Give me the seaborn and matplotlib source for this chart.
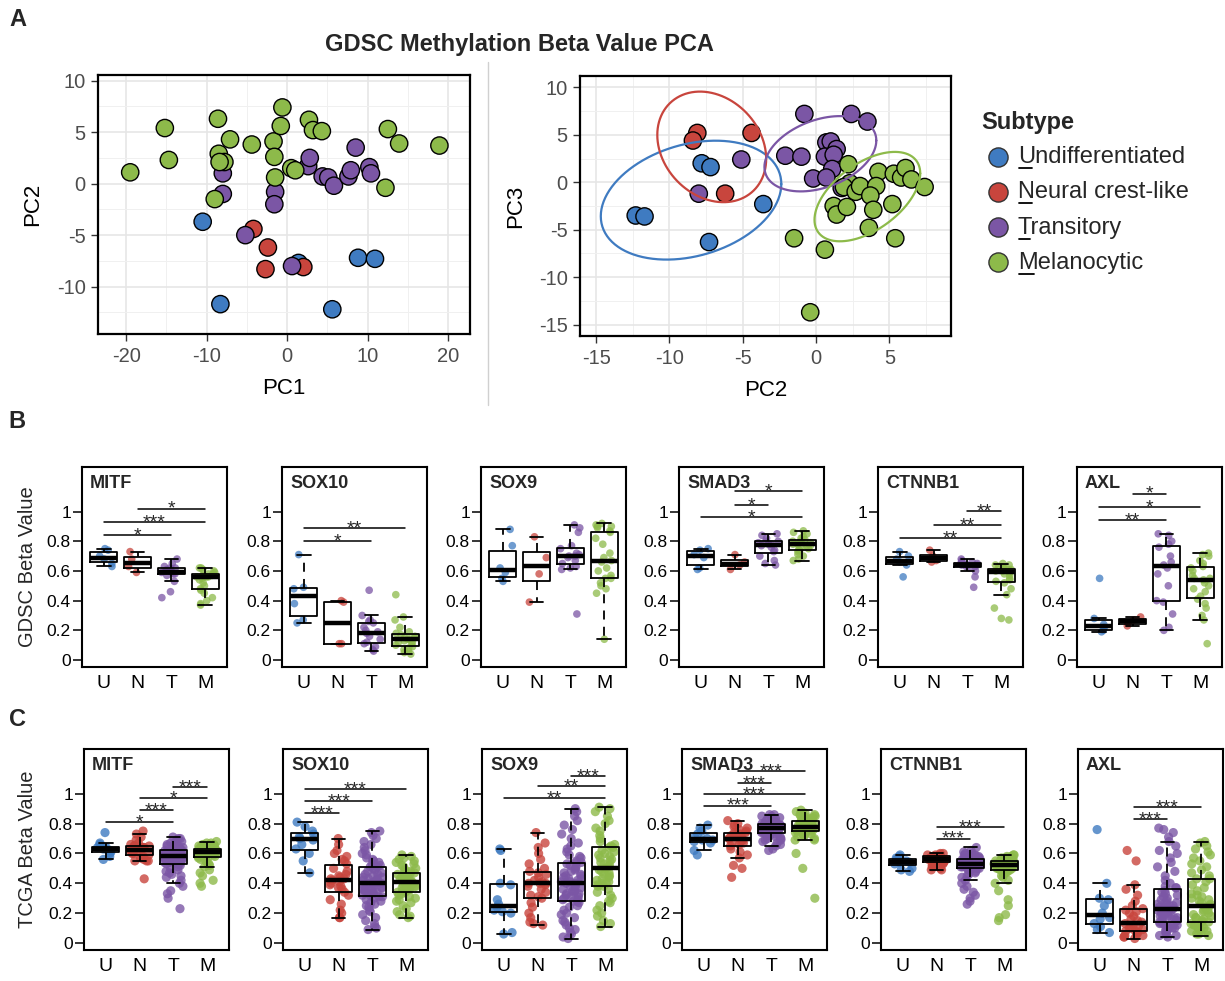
import numpy as np
import pandas as pd
import matplotlib
matplotlib.use("Agg")
import matplotlib.pyplot as plt
import seaborn as sns
from matplotlib.lines import Line2D
from matplotlib.ticker import AutoMinorLocator

# ---------------------------------------------------------------- data
GROUPS = ["U", "N", "T", "M"]
SUBTYPE_LABELS = ["Undifferentiated", "Neural crest-like", "Transitory", "Melanocytic"]
COLORS = {"U": "#3F7BC1", "N": "#C8453D", "T": "#7B56A5", "M": "#8DBA4A"}

# PCA (left panel): PC1 vs PC2
PC1_L = {"U": [-10.5, -8.3, 1.4, 8.8, 10.9, 5.6],
         "N": [-4.2, -2.4, -2.7, 2.0],
         "T": [-8.0, -8.0, -1.5, -1.6, -5.2, 0.6, 2.6, 2.8, 4.4, 5.1, 5.8, 7.6, 7.9, 8.5, 10.2, 10.4],
         "M": [-19.5, -15.2, -14.7, -8.6, -8.5, -7.8, -8.4, -7.1, -9.0, -4.4, -1.7, -1.6, -0.6, -0.8,
               -1.5, 0.5, 1.0, 2.7, 3.2, 4.3, 12.5, 13.9, 18.9, 12.2]}
PC2_L = {"U": [-3.7, -11.7, -7.7, -7.2, -7.3, -12.2],
         "N": [-4.4, -6.2, -8.3, -8.1],
         "T": [1.0, -1.0, -0.8, -2.0, -5.0, -8.0, 1.7, 2.5, 0.7, 0.6, -0.2, 0.7, 1.3, 3.5, 1.6, 1.0],
         "M": [1.1, 5.4, 2.3, 6.3, 2.9, 2.1, 2.1, 4.3, -1.5, 3.8, 4.1, 2.6, 7.4, 5.6,
               0.6, 1.5, 1.3, 6.2, 5.2, 5.1, 5.3, 3.9, 3.7, -0.4]}
# PCA (right panel): PC2 vs PC3
PC2_R = {"U": [-7.8, -7.2, -12.3, -11.7, -7.3, -3.6],
         "N": [-8.1, -8.4, -4.4, -6.2],
         "T": [-5.1, -8.0, -0.8, 2.4, 3.5, -2.1, -1.0, 0.7, 1.0, 1.4, 0.6, 1.2, 1.1, -0.2, 0.7, 1.75],
         "M": [2.2, 2.3, 1.9, 2.7, 3.0, 1.2, 1.4, 2.1, 4.25, 4.1, 3.7, 3.9, 3.6, 5.2, 5.3, 5.8,
               6.1, 6.5, 7.4, 5.4, -1.5, 0.6, -0.4]}
PC3_R = {"U": [2.0, 1.6, -3.5, -3.6, -6.3, -2.3],
         "N": [5.2, 4.4, 5.2, -1.2],
         "T": [2.4, -1.2, 7.2, 7.2, 6.4, 2.8, 2.7, 4.2, 4.3, 3.5, 2.7, 2.9, 1.4, 0.4, 0.5, -0.6],
         "M": [1.9, -0.1, -0.5, -1.0, -0.4, -2.5, -3.4, -2.6, 1.1, -0.4, -1.4, -2.9, -4.8, -2.3, 0.9,
               0.5, 1.5, 0.3, -0.5, -5.9, -5.9, -7.1, -13.7]}

GENES = ["MITF", "SOX10", "SOX9", "SMAD3", "CTNNB1", "AXL"]

# GDSC beta values
GDSC_MITF = {"U": [.75, .74, .70, .68, .65, .63], "N": [.73, .68, .63, .59],
             "T": [.42, .46, .53, .57, .58, .58, .59, .59, .60, .60, .61, .62, .62, .63, .65, .68],
             "M": [.62, .62, .61, .60, .59, .58, .58, .57, .57, .56, .56, .56, .55, .54, .52, .50, .48, .47, .45, .42, .40, .38, .37]}
GDSC_SOX10 = {"U": [.71, .49, .48, .38, .27, .25], "N": [.40, .39, .11, .11],
              "T": [.47, .30, .27, .26, .25, .22, .20, .19, .18, .16, .14, .12, .11, .09, .07, .06],
              "M": [.44, .29, .27, .22, .19, .18, .17, .16, .15, .15, .14, .14, .13, .12, .12, .11, .10, .09, .08, .07, .06, .05, .04]}
GDSC_SOX9 = {"U": [.88, .77, .62, .59, .55, .53], "N": [.83, .69, .58, .39],
             "T": [.91, .89, .86, .77, .75, .72, .71, .70, .70, .69, .67, .65, .63, .62, .61, .31],
             "M": [.92, .91, .90, .90, .89, .87, .86, .82, .78, .72, .69, .67, .66, .62, .60, .57, .55, .55, .52, .50, .48, .45, .14]}
GDSC_SMAD3 = {"U": [.75, .74, .71, .69, .62, .61], "N": [.71, .66, .64, .61],
              "T": [.85, .84, .82, .80, .80, .79, .78, .78, .77, .76, .74, .73, .70, .67, .65, .64],
              "M": [.87, .86, .85, .83, .82, .81, .80, .80, .79, .78, .78, .78, .77, .77, .76, .75, .74, .74, .73, .71, .70, .68, .67]}
GDSC_CTNNB1 = {"U": [.73, .70, .68, .66, .64, .56], "N": [.74, .70, .67, .66],
               "T": [.68, .67, .66, .66, .65, .65, .65, .64, .64, .64, .63, .63, .62, .60, .56, .49],
               "M": [.27, .28, .35, .44, .48, .52, .53, .54, .55, .57, .58, .59, .60, .60, .60, .61, .61, .62, .62, .63, .64, .64, .65]}
GDSC_AXL = {"U": [.55, .28, .24, .22, .20, .19], "N": [.29, .27, .25, .23],
            "T": [.85, .84, .80, .78, .76, .70, .66, .64, .62, .58, .50, .40, .39, .31, .22, .20],
            "M": [.72, .71, .70, .67, .65, .63, .62, .60, .57, .55, .55, .54, .52, .50, .48, .46, .43, .41, .38, .35, .30, .27, .11]}

# TCGA beta values
TCGA_MITF = {
    "U": [.74, .67, .66, .64, .64, .63, .63, .62, .61, .60, .58, .56],
    "N": [.75, .73, .71, .69, .67, .66, .65, .65, .65, .64, .64, .64, .63, .63, .63, .62, .62, .61, .61, .60,
          .60, .60, .59, .58, .57, .56, .55, .55, .55, .43],
    "T": [.71, .70, .70, .69, .68, .68, .67, .66, .66, .65, .65, .64, .64, .63, .63, .62, .62,
          .62, .62, .61, .61, .61, .61, .60, .60, .60, .60, .60, .59, .59, .59, .59, .59, .58, .58,
          .58, .58, .58, .57, .57, .57, .56, .56, .56, .56, .55, .55, .55, .54, .54, .54, .53, .53,
          .53, .52, .51, .50, .49, .48, .47, .46, .45, .44, .42, .40, .38, .35, .33, .30, .23],
    "M": [.68, .67, .67, .66, .66, .65, .65, .65, .64, .64, .64, .63, .63, .63,
          .63, .63, .62, .62, .62, .62, .62, .61, .61, .61, .61, .61, .61,
          .61, .60, .60, .60, .60, .60, .59, .59, .59, .59, .58, .58, .58, .58,
          .57, .57, .56, .55, .54, .53, .52, .51, .49, .47, .45, .42, .40, .38]}
TCGA_SOX10 = {
    "U": [.81, .78, .75, .73, .71, .70, .69, .66, .63, .60, .55, .47],
    "N": [.70, .66, .62, .60, .58, .56, .55, .53, .50, .48, .46, .45, .44, .43, .43, .42, .41, .40, .39, .38,
          .37, .36, .34, .32, .29, .26, .22, .20, .17, .17],
    "T": [.75, .74, .72, .70, .68, .66, .64, .62, .60, .59, .57, .56, .55, .54, .53, .52, .51,
          .51, .50, .49, .48, .47, .46, .46, .45, .44, .44, .43, .43, .42, .42, .41, .41, .40, .40,
          .40, .39, .39, .38, .38, .37, .37, .36, .36, .35, .35, .34, .34, .33, .33, .32, .32, .31,
          .31, .30, .29, .28, .27, .26, .25, .24, .22, .21, .19, .17, .15, .13, .11, .10, .09],
    "M": [.59, .58, .57, .56, .55, .54, .53, .52, .51, .50, .49, .48, .47, .47,
          .47, .46, .46, .45, .45, .44, .44, .43, .43, .42, .42, .42, .41,
          .41, .40, .40, .39, .39, .38, .38, .37, .37, .36, .36, .35, .35, .34,
          .34, .33, .32, .31, .30, .29, .28, .27, .25, .23, .21, .19, .18, .17]}
TCGA_SOX9 = {
    "U": [.63, .62, .40, .39, .29, .26, .24, .22, .21, .20, .07, .06],
    "N": [.74, .67, .64, .60, .56, .53, .50, .48, .47, .46, .44, .42, .41, .40, .40, .40, .39, .38, .36, .34,
          .32, .31, .30, .27, .24, .20, .17, .14, .13, .12],
    "T": [.90, .88, .85, .82, .79, .76, .73, .70, .67, .65, .63, .61, .59, .58, .57, .55, .54,
          .54, .53, .52, .51, .50, .49, .48, .47, .46, .45, .45, .44, .43, .43, .42, .41, .41, .40,
          .40, .39, .38, .38, .37, .36, .35, .35, .34, .33, .33, .32, .31, .31, .30, .29, .29, .28,
          .28, .27, .25, .24, .22, .20, .19, .17, .15, .14, .12, .10, .09, .07, .06, .04, .03],
    "M": [.91, .90, .88, .85, .82, .80, .77, .75, .72, .70, .68, .66, .65, .64,
          .64, .62, .61, .60, .59, .58, .57, .56, .55, .54, .53, .52, .51,
          .50, .49, .48, .47, .46, .45, .44, .43, .42, .41, .40, .40, .39, .38,
          .38, .36, .34, .32, .30, .28, .27, .25, .22, .20, .18, .15, .13, .11]}
TCGA_SMAD3 = {
    "U": [.79, .77, .75, .73, .71, .70, .69, .69, .68, .67, .62, .59],
    "N": [.82, .80, .79, .78, .77, .76, .75, .74, .74, .73, .72, .72, .71, .71, .70, .70, .69, .69, .68, .67,
          .67, .66, .65, .63, .61, .59, .57, .52, .50, .44],
    "T": [.86, .86, .85, .85, .84, .84, .83, .83, .82, .82, .81, .81, .81, .80, .80, .80, .80,
          .80, .80, .79, .79, .79, .79, .78, .78, .78, .78, .78, .78, .77, .77, .77, .77, .77, .77,
          .77, .76, .76, .76, .76, .76, .76, .75, .75, .75, .75, .75, .75, .74, .74, .74, .74, .74,
          .74, .73, .73, .72, .72, .71, .71, .70, .70, .69, .69, .68, .67, .66, .65, .63, .62],
    "M": [.89, .88, .87, .87, .86, .86, .85, .85, .84, .84, .83, .83, .82, .82,
          .82, .81, .81, .81, .80, .80, .80, .79, .79, .79, .79, .78, .78,
          .78, .78, .78, .77, .77, .77, .77, .76, .76, .76, .76, .75, .75, .75,
          .75, .74, .74, .73, .73, .72, .72, .71, .70, .69, .69, .60, .50, .30]}
TCGA_CTNNB1 = {
    "U": [.59, .58, .57, .56, .55, .55, .54, .54, .53, .50, .49, .48],
    "N": [.60, .60, .59, .59, .59, .58, .58, .58, .58, .57, .57, .57, .56, .56, .56, .56, .55, .55, .55, .55,
          .54, .54, .54, .53, .52, .52, .51, .50, .49, .49],
    "T": [.64, .62, .61, .60, .60, .59, .59, .58, .58, .58, .57, .57, .57, .57, .56, .56, .56,
          .56, .56, .55, .55, .55, .55, .55, .54, .54, .54, .54, .54, .54, .54, .53, .53, .53, .53,
          .53, .53, .53, .52, .52, .52, .52, .52, .51, .51, .51, .51, .51, .51, .50, .50, .50, .50,
          .50, .49, .49, .48, .47, .46, .45, .44, .42, .40, .38, .36, .34, .32, .30, .28, .26],
    "M": [.59, .59, .58, .58, .57, .57, .56, .56, .56, .55, .55, .55, .55, .55,
          .55, .54, .54, .54, .54, .54, .53, .53, .53, .53, .53, .52, .52,
          .52, .52, .52, .51, .51, .51, .51, .51, .50, .50, .50, .50, .49, .49,
          .49, .48, .47, .46, .45, .44, .42, .40, .35, .29, .25, .19, .17, .15]}
TCGA_AXL = {
    "U": [.76, .40, .30, .29, .25, .20, .17, .16, .13, .11, .09, .07],
    "N": [.62, .55, .39, .36, .32, .28, .25, .23, .22, .21, .20, .18, .16, .15, .14, .13, .12, .11, .10, .10,
          .09, .08, .08, .07, .06, .05, .05, .04, .04, .03],
    "T": [.77, .76, .74, .71, .68, .65, .62, .60, .57, .54, .51, .48, .45, .42, .40, .38, .37,
          .37, .35, .34, .33, .32, .31, .30, .29, .28, .27, .27, .26, .25, .25, .24, .24, .23, .23,
          .23, .22, .22, .21, .21, .20, .20, .19, .19, .18, .18, .17, .17, .16, .16, .15, .15, .14,
          .14, .13, .13, .12, .12, .11, .11, .10, .10, .09, .09, .08, .07, .06, .05, .05, .04],
    "M": [.68, .67, .65, .63, .61, .59, .57, .55, .53, .51, .49, .47, .45, .43,
          .43, .41, .39, .37, .35, .33, .32, .31, .30, .29, .28, .27, .26,
          .25, .24, .23, .22, .22, .21, .20, .19, .18, .17, .17, .16, .15, .14,
          .14, .13, .12, .12, .11, .10, .10, .09, .08, .08, .07, .06, .06, .05]}

GDSC = [GDSC_MITF, GDSC_SOX10, GDSC_SOX9, GDSC_SMAD3, GDSC_CTNNB1, GDSC_AXL]
TCGA = [TCGA_MITF, TCGA_SOX10, TCGA_SOX9, TCGA_SMAD3, TCGA_CTNNB1, TCGA_AXL]

# significance brackets: (from, to, height, label)
SIG_GDSC = [
    [("N", "M", 1.02, "*"), ("U", "M", 0.93, "***"), ("U", "T", 0.84, "*")],
    [("U", "M", 0.89, "**"), ("U", "T", 0.80, "*")],
    [],
    [("N", "M", 1.135, "*"), ("N", "T", 1.045, "*"), ("U", "M", 0.96, "*")],
    [("T", "M", 1.005, "**"), ("N", "M", 0.91, "**"), ("U", "M", 0.82, "**")],
    [("N", "T", 1.12, "*"), ("U", "M", 1.03, "*"), ("U", "T", 0.94, "**")],
]
SIG_TCGA = [
    [("T", "M", 1.045, "***"), ("N", "M", 0.97, "*"), ("N", "T", 0.89, "***"), ("U", "T", 0.81, "*")],
    [("U", "M", 1.03, "***"), ("U", "T", 0.95, "***"), ("U", "N", 0.87, "***")],
    [("T", "M", 1.12, "***"), ("N", "M", 1.05, "**"), ("U", "M", 0.97, "**")],
    [("N", "M", 1.15, "***"), ("N", "T", 1.07, "***"), ("U", "M", 1.00, "***"), ("U", "T", 0.92, "***")],
    [("N", "M", 0.775, "***"), ("N", "T", 0.70, "***")],
    [("N", "M", 0.91, "***"), ("N", "T", 0.83, "***")],
]

# ---------------------------------------------------------------- style
sns.set_theme(style="ticks")
plt.rcParams["font.family"] = ["Liberation Sans", "DejaVu Sans"]
plt.rcParams["axes.unicode_minus"] = False
np.random.seed(3)

W, H = 1225, 981
fig = plt.figure(figsize=(W / 100, H / 100), dpi=100)


def px_axes(left, top, right, bottom):
    return fig.add_axes([left / W, 1 - bottom / H, (right - left) / W, (bottom - top) / H])


def cov_trob(x, nu=5, maxit=25, tol=0.01):
    n, p = x.shape
    loc = x.mean(axis=0)
    w = np.ones(n)
    X = x - loc
    for _ in range(maxit):
        w0 = w
        X = x - loc
        _, d, vt = np.linalg.svd(np.sqrt(w / w.sum())[:, None] * X, full_matrices=False)
        wX = X @ vt.T @ np.diag(1 / d)
        Q = (wX ** 2).sum(axis=1)
        w = (nu + p) / (nu + Q)
        loc = (w[:, None] * x).sum(axis=0) / w.sum()
        if np.all(np.abs(w - w0) < tol):
            break
    sX = np.sqrt(w)[:, None] * X
    return sX.T @ sX / n, loc


def ellipse_xy(x, y, level=0.8, segments=100):
    data = np.column_stack([x, y])
    cov, center = cov_trob(data)
    dfd = len(x) - 1
    qf = dfd / 2 * ((1 - level) ** (-2 / dfd) - 1)
    radius = np.sqrt(2 * qf)
    ang = np.linspace(0, 2 * np.pi, segments + 1)
    circ = np.column_stack([np.cos(ang), np.sin(ang)])
    R = np.linalg.cholesky(cov).T
    pts = center + radius * circ @ R
    return pts[:, 0], pts[:, 1]


def pca_panel(ax, xs, ys, xlim, ylim, xticks, yticks, xlabel, ylabel, ellipses, ypad):
    rows = [(g, a, b) for g in GROUPS for a, b in zip(xs[g], ys[g])]
    df = pd.DataFrame(rows, columns=["group", "x", "y"])
    ax.set_axisbelow(True)
    sns.scatterplot(data=df, x="x", y="y", hue="group", hue_order=GROUPS, palette=COLORS,
                    s=155, edgecolor="black", linewidth=1.0, legend=False, ax=ax, zorder=3)
    if ellipses:
        for g in GROUPS:
            ex, ey = ellipse_xy(np.array(xs[g]), np.array(ys[g]))
            ax.plot(ex, ey, color=COLORS[g], lw=1.6, zorder=4)
    ax.set_xlim(*xlim)
    ax.set_ylim(*ylim)
    ax.set_xticks(xticks)
    ax.set_yticks(yticks)
    ax.xaxis.set_minor_locator(AutoMinorLocator(2))
    ax.yaxis.set_minor_locator(AutoMinorLocator(2))
    ax.grid(True, which="major", color="#E6E6E6", lw=1.2)
    ax.grid(True, which="minor", color="#F0F0F0", lw=0.7)
    ax.tick_params(which="major", length=5, width=1, color="#333333", labelcolor="#4D4D4D",
                   labelsize=14.5, pad=4)
    ax.tick_params(which="minor", length=0)
    for sp in ax.spines.values():
        sp.set_color("black")
        sp.set_linewidth(1.6)
    ax.set_xlabel(xlabel, fontsize=16, labelpad=9, color="black")
    ax.set_ylabel(ylabel, fontsize=16, labelpad=ypad, color="black")


def box_panel(ax, data, gene, sigs, dot, alpha):
    rows = [(g, v) for g in GROUPS for v in data[g]]
    df = pd.DataFrame(rows, columns=["group", "value"])
    sns.stripplot(data=df, x="group", y="value", hue="group", order=GROUPS, hue_order=GROUPS,
                  palette=COLORS, jitter=0.3, size=dot, alpha=alpha, linewidth=0,
                  legend=False, ax=ax, zorder=1)
    sns.boxplot(data=df, x="group", y="value", order=GROUPS, color="black", fill=False,
                width=0.8, showfliers=False, linewidth=1.3,
                medianprops=dict(linewidth=3.2, color="black"),
                whiskerprops=dict(linestyle=(0, (5, 4)), color="black"),
                capprops=dict(color="black"), ax=ax)
    for ln in ax.lines:
        ln.set_zorder(3)
    for p in ax.patches:
        p.set_zorder(3)
    pos = {g: i for i, g in enumerate(GROUPS)}
    for a, b, yv, lab in sigs:
        ax.plot([pos[a], pos[b]], [yv, yv], color="black", lw=1.1, zorder=4)
        ax.text((pos[a] + pos[b]) / 2, yv - 0.035, lab, ha="center", va="baseline",
                fontsize=14, zorder=5)
    ax.text(0.055, 0.96, gene, transform=ax.transAxes, ha="left", va="top",
            fontsize=13, fontweight="bold")
    ax.set_xlim(-0.65, 3.65)
    ax.set_ylim(-0.047, 1.30)
    ax.set_yticks([0, 0.2, 0.4, 0.6, 0.8, 1.0])
    ax.set_yticklabels(["0", "0.2", "0.4", "0.6", "0.8", "1"])
    ax.tick_params(axis="y", length=6.5, width=1.1, color="black", labelsize=12.5, pad=1.5,
                   labelcolor="black")
    ax.tick_params(axis="x", length=0, labelsize=14, pad=6, labelcolor="black")
    for sp in ax.spines.values():
        sp.set_visible(True)
        sp.set_color("black")
        sp.set_linewidth(1.5)
    ax.set_xlabel("")
    ax.set_ylabel("")


# ---------------------------------------------------------------- panel A
axL = px_axes(98, 75, 470, 334)
pca_panel(axL, PC1_L, PC2_L, (-23.5, 22.7), (-14.6, 10.55), [-20, -10, 0, 10, 20],
          [-10, -5, 0, 5, 10], "PC1", "PC2", ellipses=False, ypad=10)
axR = px_axes(580, 76, 951, 336)
pca_panel(axR, PC2_R, PC3_R, (-16.1, 9.2), (-16.2, 11.2), [-15, -10, -5, 0, 5],
          [-15, -10, -5, 0, 5, 10], "PC2", "PC3", ellipses=True, ypad=9)

fig.text(519 / W, 1 - 44.5 / H, "GDSC Methylation Beta Value PCA", ha="center", va="center",
         fontsize=17, fontweight="bold")
fig.add_artist(Line2D([488 / W, 488 / W], [1 - 62 / H, 1 - 405 / H], color="#D0D0D0", lw=1.0))

# legend
renderer = fig.canvas.get_renderer()
fig.text(981 / W, 1 - 128.5 / H, "Subtype", ha="left", va="baseline", fontsize=17,
         fontweight="bold")
for k, (g, lab) in enumerate(zip(GROUPS, SUBTYPE_LABELS)):
    yb = 163 + 35.3 * k
    fig.add_artist(Line2D([997.5 / W], [1 - (yb - 6.5) / H], marker="o", markersize=13.8,
                          markerfacecolor=COLORS[g], markeredgecolor="#333333",
                          markeredgewidth=1.0, linestyle="none"))
    fig.text(1018 / W, 1 - yb / H, lab, ha="left", va="baseline", fontsize=17)
    tmp = fig.text(1018 / W, 1 - yb / H, lab[0], ha="left", va="baseline", fontsize=17, alpha=0)
    wlet = tmp.get_window_extent(renderer).width
    tmp.remove()
    fig.add_artist(Line2D([1019 / W, (1018 + wlet * 0.82) / W], [1 - (yb + 5) / H] * 2,
                          color="black", lw=1.3))

# ---------------------------------------------------------------- panels B and C
B_LEFT = [82, 282, 481, 679, 878, 1077]
C_LEFT = [84, 283, 482, 682, 881, 1078]
for i, gene in enumerate(GENES):
    axb = px_axes(B_LEFT[i], 467, B_LEFT[i] + 145, 667)
    box_panel(axb, GDSC[i], gene, SIG_GDSC[i], dot=5.5, alpha=0.75)
    axc = px_axes(C_LEFT[i], 749, C_LEFT[i] + 145, 950)
    box_panel(axc, TCGA[i], gene, SIG_TCGA[i], dot=6.6, alpha=0.8)

fig.text(28 / W, 1 - 567 / H, "GDSC Beta Value", rotation=90, ha="center", va="center",
         fontsize=14.5)
fig.text(28 / W, 1 - 849 / H, "TCGA Beta Value", rotation=90, ha="center", va="center",
         fontsize=14.5)

for letter, (x, y) in zip("ABC", [(18, 19), (17, 422), (17, 719)]):
    fig.text(x / W, 1 - y / H, letter, ha="center", va="center", fontsize=17, fontweight="bold")

fig.savefig("out.png", dpi=100)
